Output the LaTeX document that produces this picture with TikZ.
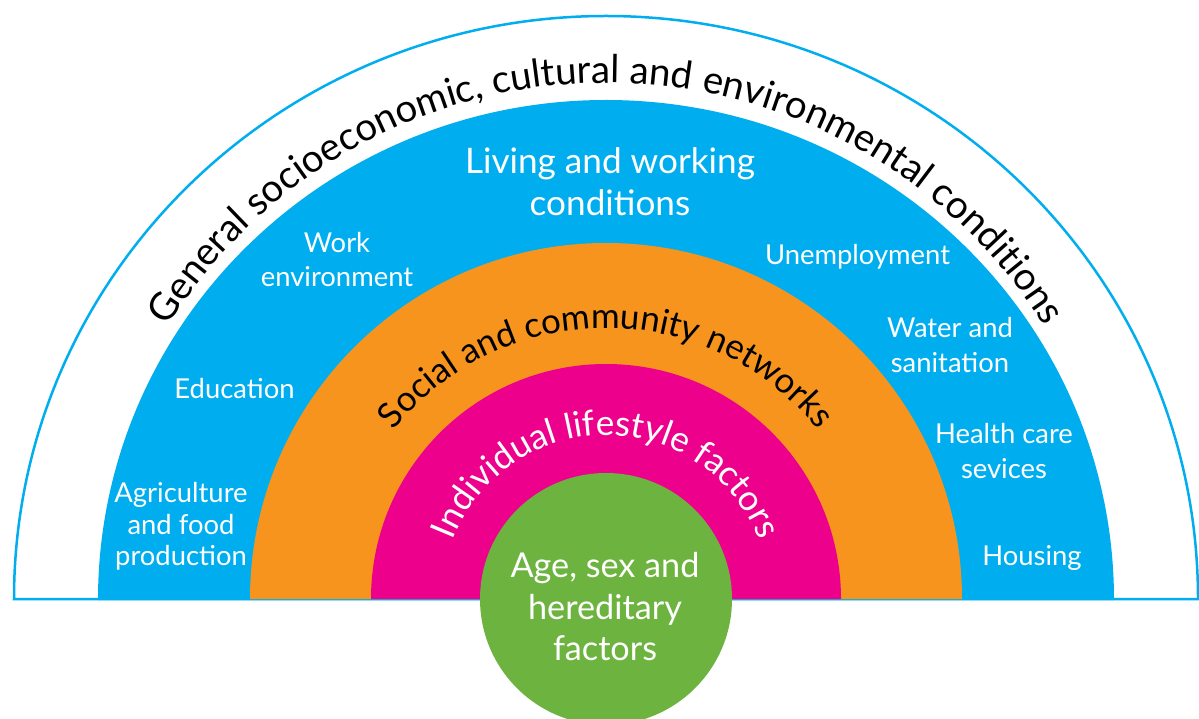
\documentclass[tikz,border=0pt]{standalone}
\usepackage{fontspec}
\setmainfont{Lato}
\usetikzlibrary{decorations.text}

\definecolor{bandblue}{HTML}{00AEEF}
\definecolor{bandorange}{HTML}{F7941D}
\definecolor{bandpink}{HTML}{EC008C}
\definecolor{coregreen}{HTML}{6DB33F}

% font size (in pt) that makes #3 exactly #2 pt wide
\newbox\fitbox
\newdimen\fitwd
\newcommand\fitfont[3]{%
  \setbox\fitbox=\hbox{\fontsize{10pt}{12pt}\selectfont #3}%
  \global\fitwd=\wd\fitbox
  \pgfmathsetmacro\fittmp{10*#2/\fitwd}%
  \global\let#1\fittmp}

\AtBeginDocument{%
  \fitfont\fsGen{1045}{General socioeconomic, cultural and environmental conditions}%
  \fitfont\fsSoc{486}{Social and community networks}%
  \fitfont\fsInd{394}{Individual lifestyle factors}%
  \fitfont\fsLiving{290}{Living and working}%
  \fitfont\fsLabel{185}{Unemployment}%
  \fitfont\fsAge{189}{Age, sex and}}

\begin{document}
\begin{tikzpicture}[x=1pt,y=1pt,
  lbl/.style={text=white, align=center, inner sep=0pt},
  arctext/.style={decorate, decoration={text along path, text align=center, text={#1}}}]
  \useasboundingbox (0,0) rectangle (1199,718);
  \clip (0,0) rectangle (1199,718);
  \coordinate (C) at (606,119);

  % nested half discs
  \path[draw=bandblue, line width=2.5pt, fill=white]
    (C) ++(-592,0) arc[start angle=180, end angle=0, x radius=592, y radius=583] -- cycle;
  \fill[bandblue] (C) ++(-508,-1) arc[start angle=180, end angle=0, x radius=508, y radius=500] -- cycle;
  \fill[bandorange] (C) ++(-356,0) arc[start angle=180, end angle=0, radius=356] -- cycle;
  \fill[bandpink] (C) ++(-235,0) arc[start angle=180, end angle=0, radius=235] -- cycle;
  \fill[coregreen] (C) circle[radius=126];

  % curved band titles
  \path[arctext={|\fontsize{\fsGen pt}{12pt}\selectfont\color{black}|General socioeconomic, cultural and environmental conditions}]
    (C) ++(180:516) arc[start angle=180, end angle=0, radius=516];
  \path[arctext={|\fontsize{\fsSoc pt}{12pt}\selectfont\color{black}|Social and community networks}]
    (C) ++(180:271) arc[start angle=180, end angle=0, radius=271];
  \path[arctext={|\fontsize{\fsInd pt}{12pt}\selectfont\color{white}|Individual lifestyle factors}]
    (C) ++(180:164) arc[start angle=180, end angle=0, radius=164];

  % labels in the blue band
  \node[lbl, font=\fontsize{\fsLiving pt}{42pt}\selectfont] (living) at (610,536) {Living and working\\conditions};
  \node[lbl, font=\fontsize{\fsLabel pt}{34.3pt}\selectfont] (work) at (337,458.7) {Work\\environment};
  \node[lbl, font=\fontsize{\fsLabel pt}{34pt}\selectfont] (edu) at (234.5,329.3) {Education};
  \node[lbl, font=\fontsize{\fsLabel pt}{34pt}\selectfont] (unemp) at (857.5,461) {Unemployment};
  \node[lbl, font=\fontsize{\fsLabel pt}{35pt}\selectfont] (water) at (950,373) {Water and\\sanitation};
  \node[lbl, font=\fontsize{\fsLabel pt}{34.7pt}\selectfont] (health) at (1004,267.2) {Health care\\sevices};
  \node[lbl, font=\fontsize{\fsLabel pt}{31.7pt}\selectfont] (agri) at (181,191.5) {Agriculture\\and food\\production};
  \node[lbl, font=\fontsize{\fsLabel pt}{34pt}\selectfont] (housing) at (1032,160) {Housing};

  % core
  \node[lbl, font=\fontsize{\fsAge pt}{41.7pt}\selectfont] (age) at (605,111.3) {Age, sex and\\hereditary\\factors};
\end{tikzpicture}
\end{document}
